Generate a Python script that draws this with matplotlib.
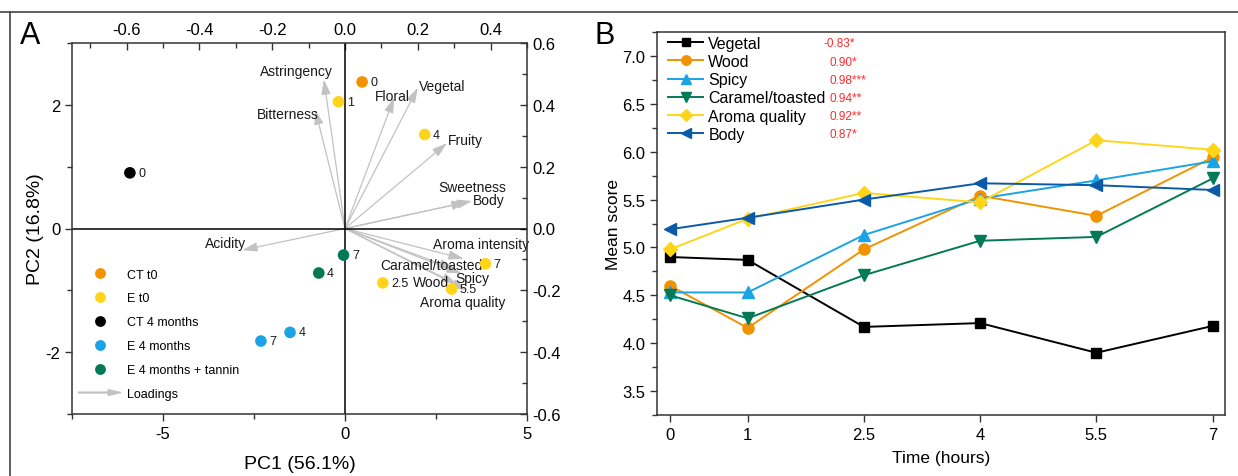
import numpy as np
import matplotlib
matplotlib.use('Agg')
import matplotlib.pyplot as plt
import matplotlib.patches as mpatches
from matplotlib.lines import Line2D
from matplotlib.legend_handler import HandlerPatch
from matplotlib.ticker import MultipleLocator

plt.rcParams['font.family'] = ['Liberation Sans', 'DejaVu Sans']
plt.rcParams['axes.unicode_minus'] = False

# ---- panel A: PCA scores ----
GROUPS = ['CT t0', 'E t0', 'CT 4 months', 'E 4 months', 'E 4 months + tannin']
GROUP_COLORS = ['#f39200', '#ffd51c', '#000000', '#1ba3e6', '#037a55']

score_group = [0, 1, 1, 1, 1, 1, 2, 3, 3, 4, 4]
score_pc1 = [0.47, -0.18, 2.19, 1.04, 2.93, 3.86, -5.91, -1.51, -2.31, -0.04, -0.72]
score_pc2 = [2.37, 2.05, 1.52, -0.88, -0.98, -0.57, 0.90, -1.68, -1.82, -0.43, -0.72]
score_time = ['0', '1', '4', '2.5', '5.5', '7', '0', '4', '7', '7', '4']

# ---- panel A: loadings ----
attributes = ['Astringency', 'Bitterness', 'Floral', 'Vegetal', 'Fruity', 'Sweetness', 'Body',
              'Acidity', 'Aroma intensity', 'Caramel/toasted', 'Spicy', 'Wood', 'Aroma quality']
load_pc1 = [-0.058, -0.082, 0.135, 0.200, 0.280, 0.334, 0.349, -0.282, 0.326, 0.300, 0.320, 0.307, 0.334]
load_pc2 = [0.482, 0.385, 0.423, 0.455, 0.276, 0.085, 0.089, -0.070, -0.098, -0.130, -0.146, -0.180, -0.200]
# where each attribute name sits (loading-axis units)
label_xy = [(-0.134, 0.511), (-0.156, 0.371), (0.129, 0.429), (0.268, 0.462), (0.332, 0.286),
            (0.351, 0.133), (0.395, 0.091), (-0.329, -0.046), (0.373, -0.049), (0.236, -0.117),
            (0.351, -0.159), (0.236, -0.172), (0.323, -0.238)]

# ---- panel B: mean scores over time ----
times = [0, 1, 2.5, 4, 5.5, 7]
time_labels = ['0', '1', '2.5', '4', '5.5', '7']
series_names = ['Vegetal', 'Wood', 'Spicy', 'Caramel/toasted', 'Aroma quality', 'Body']
vegetal = [4.90, 4.87, 4.17, 4.21, 3.90, 4.18]
wood = [4.60, 4.16, 4.98, 5.54, 5.33, 5.94]
spicy = [4.53, 4.53, 5.13, 5.51, 5.70, 5.90]
caramel = [4.50, 4.26, 4.71, 5.07, 5.11, 5.72]
aroma_quality = [4.98, 5.30, 5.57, 5.47, 6.12, 6.02]
body = [5.19, 5.31, 5.50, 5.67, 5.65, 5.60]
correlations = ['-0.83*', '0.90*', '0.98***', '0.94**', '0.92**', '0.87*']

series_vals = [vegetal, wood, spicy, caramel, aroma_quality, body]
series_colors = ['#000000', '#f39200', '#1ba3e6', '#037a55', '#ffd51c', '#0b5aa8']
series_markers = ['s', 'o', '^', 'v', 'D', '<']

W, H = 1238, 477
fig = plt.figure(figsize=(W / 100, H / 100), dpi=100)


def rect(x0, y0, x1, y1):
    return [x0 / W, 1 - y1 / H, (x1 - x0) / W, (y1 - y0) / H]


ARROW_C = '#c2c2c2'
SPINE_C = '#333333'

# ---------------- panel A ----------------
ax2 = fig.add_axes(rect(72, 44, 527, 415))
ax = fig.add_axes(rect(72, 44, 527, 415))
ax.set_zorder(2)
ax2.set_zorder(1)
ax.patch.set_visible(False)

ax2.set_xlim(-0.75, 0.5)
ax2.set_ylim(-0.6, 0.6)
ax2.xaxis.tick_top()
ax2.yaxis.tick_right()
for s in ax2.spines.values():
    s.set_visible(False)
ax2.xaxis.set_minor_locator(MultipleLocator(0.1))
ax2.yaxis.set_minor_locator(MultipleLocator(0.1))
ax2.tick_params(which='both', direction='in', labelsize=12, color=SPINE_C, pad=4)
ax2.tick_params(which='major', length=5, width=1)
ax2.tick_params(which='minor', length=3.5, width=1)
ax2.set_xticks([-0.6, -0.4, -0.2, 0.0, 0.2, 0.4])
ax2.set_yticks([-0.6, -0.4, -0.2, 0.0, 0.2, 0.4, 0.6])

for l1, l2 in zip(load_pc1, load_pc2):
    ax2.annotate('', xy=(l1, l2), xytext=(0, 0),
                 arrowprops=dict(arrowstyle='-|>,head_length=0.9,head_width=0.28',
                                 color=ARROW_C, lw=0.9, shrinkA=0, shrinkB=0))
for name, (tx, ty) in zip(attributes, label_xy):
    ax2.text(tx, ty, name, ha='center', va='center', fontsize=10, color='#1a1a1a')

ax.set_xlim(-7.5, 5)
ax.set_ylim(-3, 3)
ax.axhline(0, color='black', lw=1.1, zorder=1)
ax.axvline(0, color='black', lw=1.1, zorder=1)
for g in range(len(GROUPS)):
    idx = [i for i, sg in enumerate(score_group) if sg == g]
    ax.scatter([score_pc1[i] for i in idx], [score_pc2[i] for i in idx], s=70,
               color=GROUP_COLORS[g], edgecolors='none', zorder=3)
for x, y, t in zip(score_pc1, score_pc2, score_time):
    ax.annotate(t, (x, y), xytext=(6, 0), textcoords='offset points', va='center',
                ha='left', fontsize=9, color='#1a1a1a', zorder=4)

ax.set_xticks([-5, 0, 5])
ax.xaxis.set_minor_locator(MultipleLocator(2.5))
ax.set_yticks([-2, 0, 2])
ax.yaxis.set_minor_locator(MultipleLocator(1))
ax.tick_params(which='both', direction='out', labelsize=12, color=SPINE_C, top=False, right=False)
ax.tick_params(which='major', length=5, width=1)
ax.tick_params(which='minor', length=3.5, width=1)
for s in ax.spines.values():
    s.set_color(SPINE_C)
    s.set_linewidth(1.1)
ax.set_xlabel('PC1 (56.1%)', fontsize=14, labelpad=10)
ax.set_ylabel('PC2 (16.8%)', fontsize=14, labelpad=1)


def make_arrow(legend, orig_handle, xdescent, ydescent, width, height, fontsize):
    return mpatches.FancyArrow(-xdescent, height / 2 - ydescent, width, 0, width=0.6,
                               length_includes_head=True, head_width=0.65 * height,
                               head_length=0.3 * width, color=ARROW_C)


handles = [Line2D([], [], ls='', marker='o', ms=7.8, color=c, mec='none') for c in GROUP_COLORS]
handles.append(mpatches.FancyArrow(0, 0, 1, 0, color=ARROW_C))
ax.legend(handles, GROUPS + ['Loadings'], loc='upper left', bbox_to_anchor=(0.014, 0.392),
          frameon=False, fontsize=9, handlelength=3.4, handletextpad=0.5, labelspacing=0.95,
          borderpad=0, borderaxespad=0,
          handler_map={mpatches.FancyArrow: HandlerPatch(patch_func=make_arrow)})

fig.text(30 / W, 1 - 36 / H, 'A', fontsize=22, ha='center', va='center')

# ---------------- panel B ----------------
bx = fig.add_axes(rect(657, 33, 1225, 416))
for vals, name, c, m in zip(series_vals, series_names, series_colors, series_markers):
    ms = 8 if m in ('^', 'v', '<', 'o') else 7
    bx.plot(times, vals, color=c, marker=m, ms=ms, lw=1.4, mec=c, label=name)
bx.set_xlim(-0.17, 7.16)
bx.set_ylim(3.25, 7.25)
bx.set_xticks(times)
bx.set_xticklabels(time_labels)
bx.yaxis.set_major_locator(MultipleLocator(0.5))
bx.yaxis.set_minor_locator(MultipleLocator(0.25))
bx.tick_params(which='both', direction='out', labelsize=12, color=SPINE_C)
bx.tick_params(which='major', length=5, width=1)
bx.tick_params(which='minor', length=3.5, width=1)
for s in bx.spines.values():
    s.set_color(SPINE_C)
    s.set_linewidth(1.1)
bx.set_xlabel('Time (hours)', fontsize=12.5, labelpad=6)
bx.set_ylabel('Mean score', fontsize=12.5, labelpad=1)
leg = bx.legend(loc='upper left', bbox_to_anchor=(0.02, 0.99), frameon=False, fontsize=11.5,
                handlelength=2.2, handletextpad=0.3, labelspacing=0.2, borderpad=0,
                borderaxespad=0, markerscale=0.85)

fig.canvas.draw()
inv = bx.transAxes.inverted()
for txt, corr in zip(leg.get_texts(), correlations):
    bb = txt.get_window_extent()
    yc = inv.transform((0, (bb.y0 + bb.y1) / 2))[1]
    xr = (824 - 657) / 568 if corr.startswith('-') else (829 - 657) / 568
    bx.text(xr, yc, corr, transform=bx.transAxes, color='#ff2a2a', fontsize=8.5,
            ha='left', va='center')

fig.text(605 / W, 1 - 36 / H, 'B', fontsize=22, ha='center', va='center')

# outer frame lines (top and left)
fig.add_artist(Line2D([0, 1], [1 - 13 / H] * 2, transform=fig.transFigure, color='#444444', lw=1.2))
fig.add_artist(Line2D([9.5 / W] * 2, [0, 1 - 13 / H], transform=fig.transFigure, color='#444444', lw=1.2))

fig.savefig('out.png', dpi=100)
